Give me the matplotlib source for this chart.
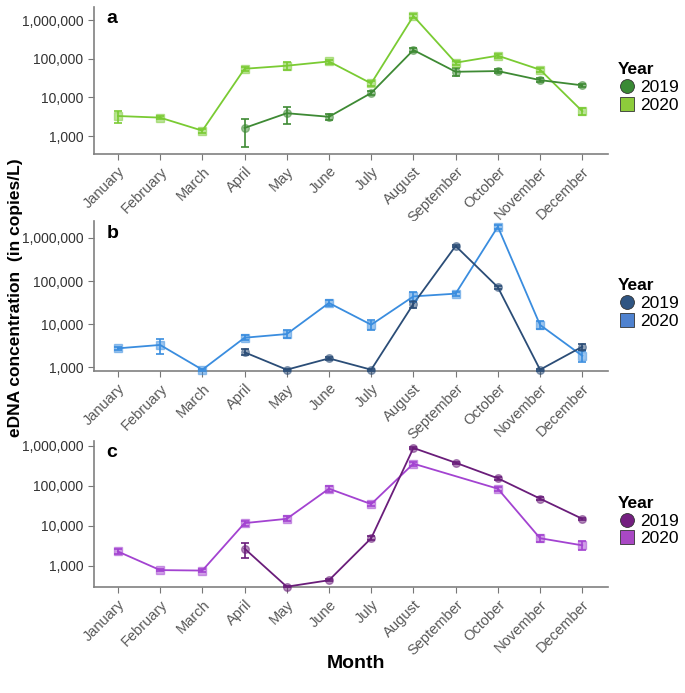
import numpy as np
import matplotlib
matplotlib.use("Agg")
import matplotlib.pyplot as plt
from matplotlib.ticker import FuncFormatter
from matplotlib.lines import Line2D

plt.rcParams['font.family'] = ['Liberation Sans', 'DejaVu Sans']

months = ["January", "February", "March", "April", "May", "June", "July",
          "August", "September", "October", "November", "December"]
nan = np.nan

# panel a
a_2019 = [nan, nan, nan, 1620, 3900, 3150, 13000, 168000, 46000, 48000, 28000, 20500]
a_2019_lo = [nan, nan, nan, 520, 2000, 2600, 11500, 150000, 36000, 43000, 25000, 18500]
a_2019_hi = [nan, nan, nan, 2750, 5700, 3700, 14500, 186000, 56000, 53000, 31000, 22500]
a_2020 = [3300, 3000, 1380, 55000, 66000, 85000, 23000, 1270000, 79000, 120000, 52000, 4400]
a_2020_lo = [2200, 2700, 1200, 48000, 52000, 75000, 20000, 1120000, 70000, 106000, 45000, 3500]
a_2020_hi = [4400, 3300, 1560, 62000, 80000, 95000, 26000, 1430000, 88000, 134000, 59000, 5300]

# panel b
b_2019 = [nan, nan, nan, 2230, 880, 1610, 880, 29500, 650000, 72000, 880, 3000]
b_2019_lo = [nan, nan, nan, 1900, 830, 1480, 830, 24000, 600000, 66000, 830, 2500]
b_2019_hi = [nan, nan, nan, 2600, 930, 1750, 930, 35000, 700000, 78000, 930, 3500]
b_2020 = [2750, 3300, 880, 4850, 5900, 31000, 9700, 44000, 51000, 1820000, 9600, 1850]
b_2020_lo = [2500, 2000, 830, 4200, 4800, 26000, 7300, 33000, 46000, 1650000, 7600, 1300]
b_2020_hi = [3000, 4500, 930, 5500, 7200, 36000, 12500, 56000, 56000, 2000000, 12000, 2400]

# panel c
c_2019 = [nan, nan, nan, 2700, 300, 435, 4900, 890000, 380000, 155000, 48000, 15000]
c_2019_lo = [nan, nan, nan, 1550, 285, 410, 4300, 820000, 355000, 143000, 44000, 14000]
c_2019_hi = [nan, nan, nan, 3700, 315, 460, 5600, 960000, 405000, 168000, 52000, 16000]
c_2020 = [2280, 780, 760, 11700, 15000, 85000, 35000, 360000, nan, 85000, 4900, 3250]
c_2020_lo = [2000, 720, 680, 10000, 13000, 72000, 31000, 320000, nan, 76000, 3900, 2500]
c_2020_hi = [2560, 840, 840, 13500, 17500, 98000, 39000, 400000, nan, 94000, 6000, 4100]

panels = [
    ("a", a_2019, a_2019_lo, a_2019_hi, a_2020, a_2020_lo, a_2020_hi,
     "#3e8a34", "#7acb33", (10**2.54, 10**6.34), [0.137, 0.778, 0.750, 0.212]),
    ("b", b_2019, b_2019_lo, b_2019_hi, b_2020, b_2020_lo, b_2020_hi,
     "#2b4d77", "#3a8ddf", (10**2.92, 10**6.39), [0.137, 0.465, 0.750, 0.216]),
    ("c", c_2019, c_2019_lo, c_2019_hi, c_2020, c_2020_lo, c_2020_hi,
     "#6a1d7a", "#a343d1", (10**2.47, 10**6.13), [0.137, 0.153, 0.750, 0.211]),
]
legend_fill = {"a": ("#3a8a35", "#8dcc3b"), "b": ("#2f5582", "#4f82cf"), "c": ("#741f80", "#a948c4")}

fig = plt.figure(figsize=(6.85, 6.93), dpi=100)
x = np.arange(len(months))
fmt = FuncFormatter(lambda v, p: f"{int(round(v)):,}")

for lab, y19, lo19, hi19, y20, lo20, hi20, c19, c20, ylim, pos in panels:
    ax = fig.add_axes(pos)
    for y, lo, hi, col, mk in [(y20, lo20, hi20, c20, "s"), (y19, lo19, hi19, c19, "o")]:
        y = np.array(y, float)
        lo = np.array(lo, float)
        hi = np.array(hi, float)
        m = ~np.isnan(y)
        ax.plot(x[m], y[m], color=col, lw=1.3, zorder=3)
        ax.errorbar(x[m], y[m], yerr=[y[m] - lo[m], hi[m] - y[m]], fmt="none",
                    ecolor=col, elinewidth=1.2, capsize=3, capthick=1.2, zorder=4)
        ax.plot(x[m], y[m], mk, ms=5.5, mfc=col, mec=col, alpha=0.5, zorder=5, clip_on=False)
    ax.set_yscale("log")
    ax.set_ylim(*ylim)
    ax.set_xlim(-0.57, 11.6)
    ax.set_yticks([1e3, 1e4, 1e5, 1e6])
    ax.yaxis.set_major_formatter(fmt)
    ax.yaxis.set_minor_locator(matplotlib.ticker.NullLocator())
    ax.set_xticks(x)
    ax.set_xticklabels(months, rotation=45, ha="right", rotation_mode="anchor",
                       fontsize=10.5, color="#595959")
    ax.tick_params(axis="y", labelsize=10, colors="#333333", length=4, color="#777777")
    ax.tick_params(axis="x", length=4, color="#777777")
    for s in ["top", "right"]:
        ax.spines[s].set_visible(False)
    for s in ["left", "bottom"]:
        ax.spines[s].set_color("#808080")
        ax.spines[s].set_linewidth(1.2)
    ax.text(0.025, 0.92, lab, transform=ax.transAxes, fontsize=14, fontweight="bold",
            va="center", ha="left")
    f19, f20 = legend_fill[lab]
    handles = [Line2D([], [], marker="o", ls="none", ms=10, mfc=f19, mec="#333333", mew=0.6),
               Line2D([], [], marker="s", ls="none", ms=10, mfc=f20, mec="#333333", mew=0.6)]
    leg = ax.legend(handles, ["2019", "2020"], title="Year", loc="center left",
                    bbox_to_anchor=(1.0, 0.45), frameon=False, fontsize=12.5,
                    title_fontproperties={"weight": "bold", "size": 12.5},
                    handletextpad=0.3, labelspacing=0.15, borderaxespad=0.2,
                    handlelength=1.0)
    leg._legend_box.align = "left"

fig.text(0.022, 0.57, "eDNA concentration  (in copies/L)", rotation=90, fontsize=12.5,
         fontweight="bold", ha="center", va="center")
fig.text(0.52, 0.043, "Month", fontsize=14, fontweight="bold", ha="center", va="center")

fig.savefig("out.png", dpi=100)
